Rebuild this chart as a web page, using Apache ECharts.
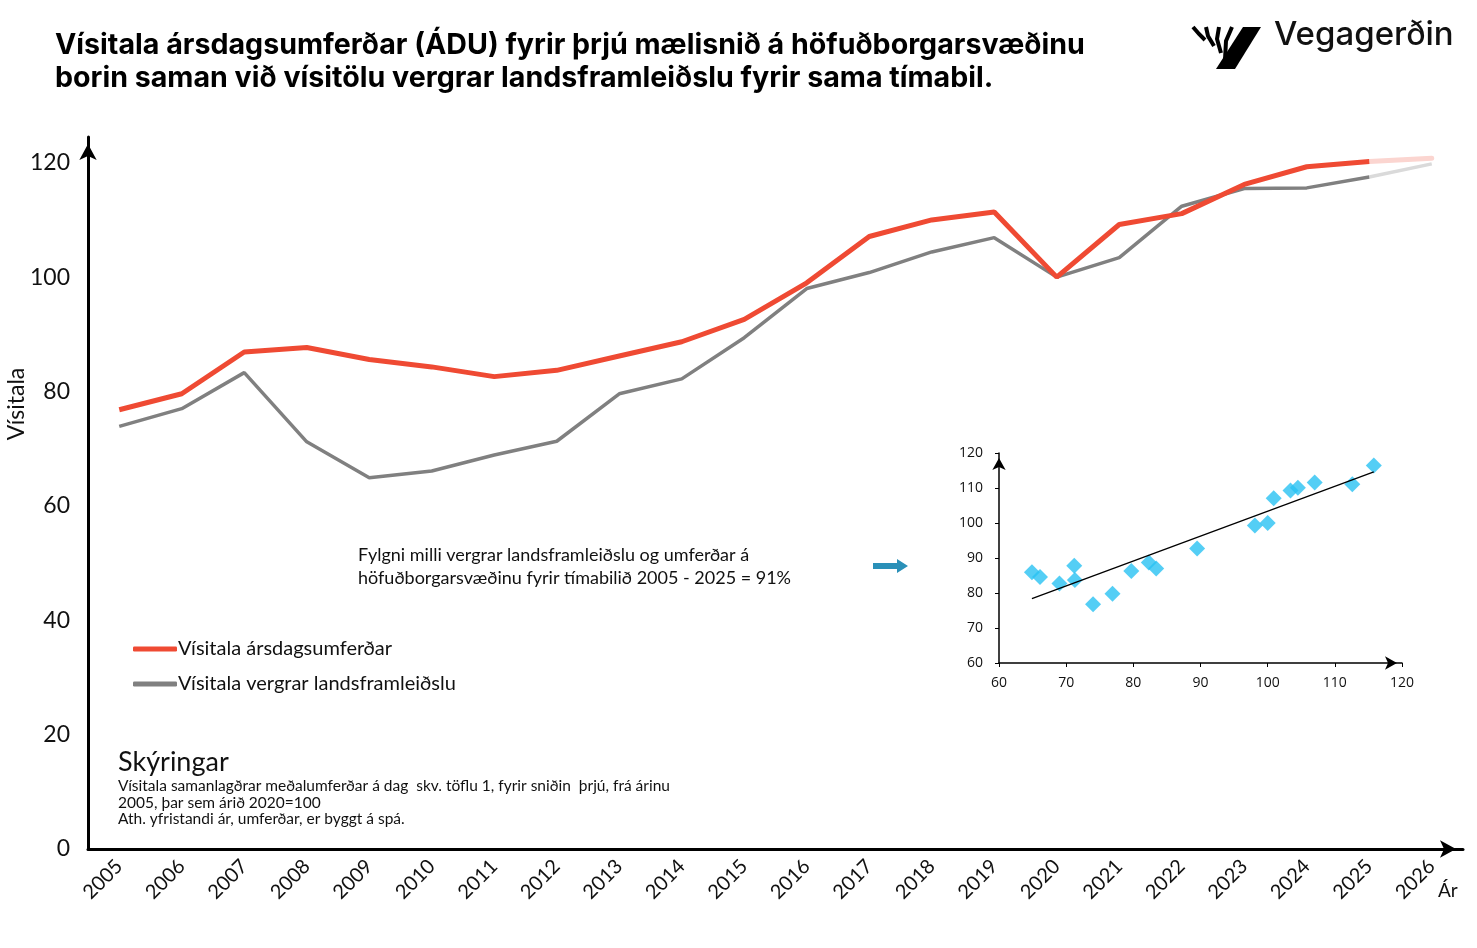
<!DOCTYPE html>
<html>
<head>
<meta charset="utf-8">
<script src="https://cdn.jsdelivr.net/npm/echarts@6/dist/echarts.min.js"></script>
<style>
  html, body { margin: 0; padding: 0; background: #fff }
  #chart { width: 1477px; height: 948px }
</style>
</head>
<body>
<div id="chart"></div>
<script>
// ár á x-ás
const years = ['2005', '2006', '2007', '2008', '2009', '2010', '2011', '2012', '2013', '2014', '2015',
  '2016', '2017', '2018', '2019', '2020', '2021', '2022', '2023', '2024', '2025', '2026']
// vísitala ársdagsumferðar (síðasta árið er spá)
const traffic = [76.8, 79.6, 86.9, 87.7, 85.6, 84.3, 82.6, 83.7, 86.2, 88.7, 92.6,
  99.0, 107.1, 110.0, 111.4, 100, 109.2, 111.1, 116.2, 119.3, 120.2, 120.8]
// vísitala vergrar landsframleiðslu
const gdp = [73.9, 77.0, 83.3, 71.2, 64.9, 66.1, 68.9, 71.3, 79.6, 82.2, 89.4,
  98.0, 100.8, 104.4, 106.9, 100, 103.4, 112.4, 115.5, 115.6, 117.5, 119.8]
const lastActual = 20 // 2025

// fylgnirit (VLF á x, umferð á y)
const scatterGdp = [64.9, 66.1, 69.0, 71.2, 71.3, 74.0, 76.9, 79.7, 82.3, 83.4, 89.5,
  98.1, 100.0, 100.9, 103.4, 104.5, 107.0, 112.6, 115.8]
const scatterTraffic = [85.9, 84.6, 82.7, 87.8, 83.7, 76.8, 79.8, 86.3, 88.7, 87.0, 92.7,
  99.3, 100.0, 107.1, 109.3, 110.1, 111.6, 111.1, 116.4]

const mainTicks = [0, 20, 40, 60, 80, 100, 120]

const RED = '#EF4A33'
const GREY = '#808080'
const FONT = 'Lato'

function actual(arr) {
  return arr.map((v, i) => (i <= lastActual ? v : null))
}
function forecast(arr) {
  return arr.map((v, i) => (i >= lastActual ? v : null))
}

// línuleg aðhvarfsgreining fyrir leitnilínu
function trendLine(xs, ys) {
  const n = xs.length
  const mx = xs.reduce((a, b) => a + b, 0) / n
  const my = ys.reduce((a, b) => a + b, 0) / n
  let sxy = 0, sxx = 0
  for (let i = 0; i < n; i++) {
    sxy += (xs[i] - mx) * (ys[i] - my)
    sxx += (xs[i] - mx) * (xs[i] - mx)
  }
  const b = sxy / sxx
  const a = my - b * mx
  const x0 = Math.min(...xs), x1 = Math.max(...xs)
  return [[x0, a + b * x0], [x1, a + b * x1]]
}

function stripe(points) {
  return { type: 'polyline', shape: { points }, style: { stroke: '#000', lineWidth: 4, fill: null, lineCap: 'butt' } }
}

const chart = echarts.init(document.getElementById('chart'))

chart.setOption({
  animation: false,
  textStyle: { fontFamily: FONT },
  title: {
    text: 'Vísitala ársdagsumferðar (ÁDU) fyrir þrjú mælisnið á höfuðborgarsvæðinu\nborin saman við vísitölu vergrar landsframleiðslu fyrir sama tímabil.',
    left: 50,
    top: 24,
    textStyle: { fontFamily: 'Inter', fontSize: 28.6, fontWeight: 'bold', color: '#000', lineHeight: 33 }
  },
  legend: {
    data: ['Vísitala ársdagsumferðar', 'Vísitala vergrar landsframleiðslu'],
    orient: 'vertical',
    left: 128,
    top: 633,
    icon: 'roundRect',
    itemWidth: 44,
    itemHeight: 5,
    itemGap: 13,
    textStyle: { fontFamily: FONT, fontSize: 20, color: '#111', lineHeight: 22, padding: [0, 0, 0, -4] }
  },
  grid: [
    { left: 88, right: 14, top: 137, bottom: 99 },
    { left: 999, right: 75, top: 453, bottom: 285 }
  ],
  xAxis: [
    {
      type: 'category',
      gridIndex: 0,
      data: years,
      boundaryGap: true,
      axisLine: { lineStyle: { color: '#000', width: 3 }, symbol: ['none', 'arrow'], symbolSize: [13, 16], symbolOffset: [0, -7] },
      axisTick: { show: false },
      axisLabel: { rotate: 45, margin: 14, fontSize: 20, color: '#111', fontFamily: FONT, interval: 0 },
      splitLine: { show: false }
    },
    {
      type: 'value',
      gridIndex: 1,
      min: 60,
      max: 120,
      interval: 10,
      axisLine: { show: true, lineStyle: { color: '#000', width: 1.5 }, symbol: ['none', 'arrow'], symbolSize: [10, 12], symbolOffset: [0, -5] },
      axisTick: { show: true, length: 4, lineStyle: { color: '#000' } },
      axisLabel: { fontSize: 14, color: '#111', fontFamily: 'Open Sans', margin: 13 },
      splitLine: { show: false }
    }
  ],
  yAxis: [
    {
      type: 'value',
      gridIndex: 0,
      min: 0,
      max: 124.5,
      interval: 20,
      axisLine: { show: true, lineStyle: { color: '#000', width: 3 }, symbol: ['none', 'arrow'], symbolSize: [13, 16], symbolOffset: [0, -7] },
      axisTick: { show: false },
      axisLabel: {
        showMaxLabel: false,
        margin: 18,
        fontSize: 23,
        color: '#111',
        fontFamily: FONT,
        formatter: v => (mainTicks.includes(v) ? String(v) : '')
      },
      splitLine: { show: false }
    },
    {
      type: 'value',
      gridIndex: 1,
      min: 60,
      max: 120,
      interval: 10,
      axisLine: { show: true, lineStyle: { color: '#000', width: 1.5 }, symbol: ['none', 'arrow'], symbolSize: [10, 12], symbolOffset: [0, -5] },
      axisTick: { show: true, length: 4, lineStyle: { color: '#000' } },
      axisLabel: { fontSize: 14, color: '#111', fontFamily: 'Open Sans', margin: 16 },
      splitLine: { show: false }
    }
  ],
  series: [
    {
      name: 'Vísitala vergrar landsframleiðslu',
      type: 'line',
      xAxisIndex: 0,
      yAxisIndex: 0,
      data: actual(gdp),
      symbol: 'none',
      lineStyle: { color: GREY, width: 3.5 },
      itemStyle: { color: GREY },
      z: 2
    },
    {
      name: 'Vísitala ársdagsumferðar',
      type: 'line',
      xAxisIndex: 0,
      yAxisIndex: 0,
      data: actual(traffic),
      symbol: 'none',
      lineStyle: { color: RED, width: 5 },
      itemStyle: { color: RED },
      z: 3
    },
    {
      name: 'spá VLF',
      type: 'line',
      xAxisIndex: 0,
      yAxisIndex: 0,
      data: forecast(gdp),
      symbol: 'none',
      lineStyle: { color: '#DADADA', width: 3.5 },
      z: 1
    },
    {
      name: 'spá umferð',
      type: 'line',
      xAxisIndex: 0,
      yAxisIndex: 0,
      data: forecast(traffic),
      symbol: 'none',
      lineStyle: { color: '#FBD5D0', width: 5, cap: 'round' },
      z: 1
    },
    {
      name: 'fylgni',
      type: 'scatter',
      xAxisIndex: 1,
      yAxisIndex: 1,
      data: scatterGdp.map((x, i) => [x, scatterTraffic[i]]),
      symbol: 'diamond',
      symbolSize: [16, 16],
      itemStyle: { color: '#29C2F2' },
      z: 3
    },
    {
      name: 'leitni',
      type: 'line',
      xAxisIndex: 1,
      yAxisIndex: 1,
      data: trendLine(scatterGdp, scatterTraffic),
      symbol: 'none',
      lineStyle: { color: '#000', width: 1.3 },
      z: 4
    }
  ],
  graphic: [
    // y-ás heiti
    {
      type: 'text',
      x: 17,
      y: 404,
      rotation: Math.PI / 2,
      style: { text: 'Vísitala', font: '23px ' + FONT, fill: '#111', align: 'center', verticalAlign: 'middle' }
    },
    // x-ás heiti
    {
      type: 'text',
      left: 1438,
      top: 881,
      style: { text: 'Ár', font: '19px ' + FONT, fill: '#111' }
    },
    // fylgni texti
    {
      type: 'text',
      left: 358,
      top: 544,
      style: {
        text: 'Fylgni milli vergrar landsframleiðslu og umferðar á\nhöfuðborgarsvæðinu fyrir tímabilið 2005 - 2025 = 91%',
        font: '18px ' + FONT,
        fill: '#111',
        lineHeight: 23
      }
    },
    // ör að fylgniriti
    {
      type: 'polygon',
      shape: { points: [[873, 563], [897, 563], [897, 559], [908, 566], [897, 573], [897, 569], [873, 569]] },
      style: { fill: '#2A90B8' }
    },
    // skýringar
    {
      type: 'text',
      left: 118,
      top: 749,
      style: { text: 'Skýringar', font: '27px ' + FONT, fill: '#111' }
    },
    {
      type: 'text',
      left: 118,
      top: 778,
      style: {
        text: 'Vísitala samanlagðrar meðalumferðar á dag  skv. töflu 1, fyrir sniðin  þrjú, frá árinu\n2005, þar sem árið 2020=100\nAth. yfristandi ár, umferðar, er byggt á spá.',
        font: '15.5px ' + FONT,
        fill: '#111',
        lineHeight: 16.5
      }
    },
    // merki Vegagerðarinnar
    {
      type: 'polygon',
      shape: { points: [[1243, 27], [1261, 27], [1235, 69], [1216, 69]] },
      style: { fill: '#000' }
    },
    stripe([[1193, 27], [1199, 34], [1205, 40]]),
    stripe([[1206, 27], [1208, 36], [1214, 46]]),
    stripe([[1219, 27], [1217, 39], [1221, 53]]),
    stripe([[1232, 27], [1226, 41], [1225, 60]]),
    {
      type: 'text',
      left: 1274,
      top: 19,
      style: { text: 'Vegagerðin', font: '500 33px Inter', fill: '#111' }
    }
  ]
})
</script>
</body>
</html>
